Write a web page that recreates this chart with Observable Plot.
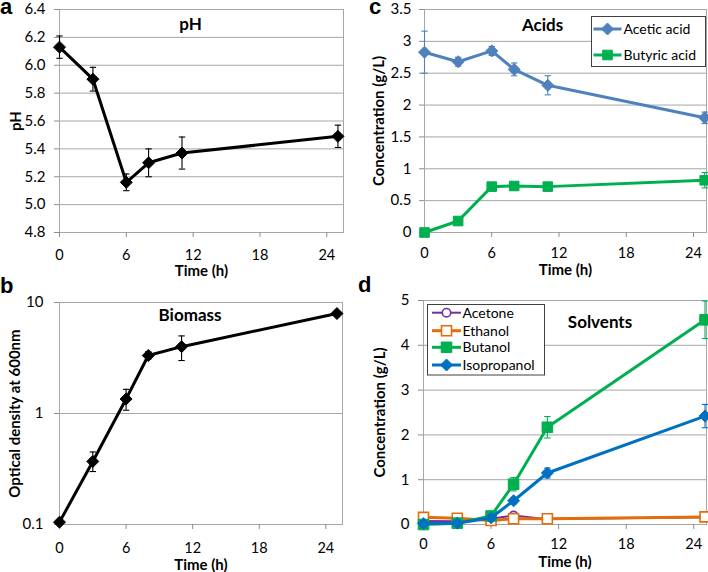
<!DOCTYPE html>
<html><head><meta charset="utf-8">
<script src="https://cdn.jsdelivr.net/npm/d3@7"></script>
<script src="https://cdn.jsdelivr.net/npm/@observablehq/plot@0.6"></script>
<style>
html,body{margin:0;padding:0;background:#fff;}
#root{position:relative;width:708px;height:572px;overflow:hidden;}
#root > svg{position:absolute;}
</style></head><body><div id="root"></div>
<script>
// ---------- data ----------
const time = [0, 3, 6, 8, 11, 25];
const xTicks = [0, 6, 12, 18, 24];

const pHValues = [6.13, 5.90, 5.16, 5.30, 5.37, 5.49];
const pHErr = [0.08, 0.085, 0.06, 0.10, 0.115, 0.08];
const pHTicks = [4.8, 5.0, 5.2, 5.4, 5.6, 5.8, 6.0, 6.2, 6.4];

const odValues = [0.105, 0.37, 1.35, 3.33, 4.0, 7.95];
const odLow = [0.105, 0.30, 1.07, 3.1, 3.0, 7.95];
const odHigh = [0.105, 0.45, 1.65, 3.6, 5.0, 7.95];
const odTicks = [0.1, 1, 10];

const aceticAcid = [2.83, 2.68, 2.85, 2.56, 2.31, 1.80];
const aceticErr = [0.33, 0.07, 0.07, 0.10, 0.15, 0.09];
const butyricAcid = [0.0, 0.18, 0.72, 0.73, 0.72, 0.82];
const butyricErr = [0, 0.02, 0.03, 0.05, 0.03, 0.12];
const acidTicks = [0, 0.5, 1, 1.5, 2, 2.5, 3, 3.5];

const acetone = [0.08, 0.07, 0.13, 0.20, 0.12, 0.16];
const ethanol = [0.16, 0.14, 0.09, 0.13, 0.13, 0.17];
const butanol = [0.0, 0.03, 0.19, 0.90, 2.17, 4.57];
const butanolErr = [0, 0.01, 0.02, 0.15, 0.24, 0.42];
const isopropanol = [0.02, 0.03, 0.15, 0.53, 1.15, 2.42];
const isopropanolErr = [0, 0.01, 0.02, 0.07, 0.11, 0.26];
const solventTicks = [0, 1, 2, 3, 4, 5];

// ---------- symbols (half-size = r) ----------
const rOf = size => Math.sqrt(size / Math.PI);
const diamondSym = {draw(ctx, size){ const r = rOf(size); ctx.moveTo(0,-r); ctx.lineTo(r,0); ctx.lineTo(0,r); ctx.lineTo(-r,0); ctx.closePath(); }};
const squareSym = {draw(ctx, size){ const r = rOf(size); ctx.rect(-r,-r,2*r,2*r); }};
const circleSym = {draw(ctx, size){ const r = rOf(size); ctx.moveTo(r,0); ctx.arc(0,0,r,0,2*Math.PI); }};
const capSym = {draw(ctx, size){ const r = rOf(size); ctx.moveTo(-r,0); ctx.lineTo(r,0); }};

const FONT = "Lato, 'Open Sans', sans-serif";
const GRID = "#a6a6a6";

function seriesMarks(s) {
  const data = time.map((t, i) => ({t, v: s.values[i], lo: s.lo[i], hi: s.hi[i]}));
  const errData = data.filter(d => d.hi - d.lo > 0.001);
  const ec = s.errColor || s.color;
  return [
    Plot.line(data, {x: "t", y: "v", stroke: s.color, strokeWidth: s.lw}),
    Plot.ruleX(errData, {x: "t", y1: "lo", y2: "hi", stroke: ec, strokeWidth: 1.1}),
    Plot.dot(errData, {x: "t", y: "lo", symbol: capSym, r: 3.2, stroke: ec, fill: "none", strokeWidth: 1.1}),
    Plot.dot(errData, {x: "t", y: "hi", symbol: capSym, r: 3.2, stroke: ec, fill: "none", strokeWidth: 1.1}),
    Plot.dot(data, {x: "t", y: "v", symbol: s.symbol, r: s.r, fill: s.fill, stroke: s.color, strokeWidth: s.open ? 1.6 : 1})
  ];
}

function makePanel(o) {
  const svg = Plot.plot({
    width: 354, height: o.height,
    marginTop: o.m[0], marginRight: o.m[1], marginBottom: o.m[2], marginLeft: o.m[3],
    style: {fontFamily: FONT, fontSize: "15px", color: "#000", background: "transparent"},
    x: {domain: [0, o.xMax], label: null},
    y: Object.assign({domain: o.yDomain, label: null}, o.yType ? {type: o.yType} : {}),
    marks: [
      Plot.gridY(o.yTicks, {stroke: GRID, strokeOpacity: 1, strokeWidth: 1}),
      Plot.frame({stroke: GRID}),
      Plot.axisX(xTicks, {tickSize: 5, tickPadding: o.xPad, stroke: "#8c8c8c", label: null, fontSize: 14.5}),
      Plot.axisY(o.yTicks, {tickSize: 5, tickPadding: o.yPad, stroke: "#8c8c8c", label: null, tickFormat: o.yFormat, fontSize: 15}),
      Plot.text([o.title], {text: d => d, frameAnchor: "top", textAnchor: "middle", lineAnchor: "middle", dx: o.titleDx, dy: o.titleDy, fontWeight: "bold", fontSize: 17}),
      Plot.text(["Time (h)"], {text: d => d, frameAnchor: "bottom", textAnchor: "middle", lineAnchor: "middle", dy: o.xLabelDy, fontWeight: "bold", fontSize: 15}),
      Plot.text([o.yLabel], {text: d => d, frameAnchor: "left", textAnchor: "middle", lineAnchor: "middle", dx: o.yLabelDx, rotate: -90, fontWeight: "bold", fontSize: o.yLabelSize || 15}),
      ...o.series.flatMap(seriesMarks)
    ]
  });
  svg.style.left = o.left + "px";
  svg.style.top = o.top + "px";
  if (o.legend) drawLegend(svg, o.legend, o.series);
  document.getElementById("root").appendChild(svg);
  return svg;
}

function drawLegend(svg, L, series) {
  const g = d3.select(svg).append("g").attr("text-anchor", "start");
  g.append("rect").attr("x", L.x).attr("y", L.y).attr("width", L.w).attr("height", L.h)
    .attr("fill", "#fff").attr("stroke", "#404040").attr("stroke-width", 1);
  series.forEach((s, i) => {
    const y = L.rows[i];
    g.append("line").attr("x1", L.lx1).attr("x2", L.lx2).attr("y1", y).attr("y2", y)
      .attr("stroke", s.color).attr("stroke-width", s.lw);
    g.append("path").attr("transform", `translate(${(L.lx1 + L.lx2) / 2},${y})`)
      .attr("d", d3.symbol(s.symbol, Math.PI * s.r * s.r)())
      .attr("fill", s.fill).attr("stroke", s.color).attr("stroke-width", s.open ? 1.6 : 1);
    g.append("text").attr("x", L.tx).attr("y", y).attr("dy", "0.36em").attr("text-anchor", "start")
      .attr("font-family", FONT).attr("font-size", 14).attr("fill", "#000").text(s.name);
  });
}

// ---------- panels ----------
makePanel({
  left: 0, top: 0, height: 290, m: [9, 11, 58, 59], xMax: 25.5,
  yDomain: [4.8, 6.4], yTicks: pHTicks, yFormat: d3.format(".1f"), xPad: 12, yPad: 9,
  title: "pH", titleDx: -11, titleDy: 15, xLabelDy: 39, yLabel: "pH", yLabelDx: -43.5,
  series: [{name: "pH", values: pHValues, lo: pHValues.map((v, i) => v - pHErr[i]), hi: pHValues.map((v, i) => v + pHErr[i]),
    color: "#000", lw: 3, symbol: diamondSym, r: 6, fill: "#000"}]
});

makePanel({
  left: 0, top: 290, height: 282, m: [12, 12, 48, 59], xMax: 25.5,
  yType: "log", yDomain: [0.1, 10], yTicks: odTicks, yFormat: d => String(d), xPad: 13.5, yPad: 11,
  title: "Biomass", titleDx: -11, titleDy: 13, xLabelDy: 41, yLabel: "Optical density at 600nm", yLabelDx: -44, yLabelSize: 15,
  series: [{name: "OD", values: odValues, lo: odLow, hi: odHigh, color: "#000", lw: 3, symbol: diamondSym, r: 6, fill: "#000"}]
});

const acidSeries = [
  {name: "Acetic acid", values: aceticAcid, lo: aceticAcid.map((v, i) => v - aceticErr[i]), hi: aceticAcid.map((v, i) => v + aceticErr[i]),
    color: "#4f81bd", lw: 3, symbol: diamondSym, r: 6, fill: "#4f81bd"},
  {name: "Butyric acid", values: butyricAcid, lo: butyricAcid.map((v, i) => v - butyricErr[i]), hi: butyricAcid.map((v, i) => v + butyricErr[i]),
    color: "#00b050", lw: 3, symbol: squareSym, r: 4.8, fill: "#00b050"}
];
makePanel({
  left: 354, top: 0, height: 290, m: [9, 2, 58, 70], xMax: 25.16,
  yDomain: [0, 3.5], yTicks: acidTicks, yFormat: d => String(d), xPad: 10, yPad: 8,
  title: "Acids", titleDx: -23, titleDy: 16, xLabelDy: 38, yLabel: "Concentration (g/L)", yLabelDx: -45,
  series: acidSeries,
  legend: {x: 237.5, y: 16.5, w: 114, h: 50, rows: [29, 55], lx1: 239.5, lx2: 267.5, tx: 269.5}
});

const solventSeries = [
  {name: "Acetone", values: acetone, lo: acetone, hi: acetone, color: "#7030a0", lw: 2, symbol: circleSym, r: 4.2, fill: "#fff", open: true},
  {name: "Ethanol", values: ethanol, lo: ethanol, hi: ethanol, color: "#e46c0a", lw: 3, symbol: squareSym, r: 5, fill: "#fff", open: true},
  {name: "Butanol", values: butanol, lo: butanol.map((v, i) => v - butanolErr[i]), hi: butanol.map((v, i) => v + butanolErr[i]),
    color: "#00b050", lw: 3, symbol: squareSym, r: 5.3, fill: "#00b050"},
  {name: "Isopropanol", values: isopropanol, lo: isopropanol.map((v, i) => v - isopropanolErr[i]), hi: isopropanol.map((v, i) => v + isopropanolErr[i]),
    color: "#0070c0", lw: 3, symbol: diamondSym, r: 6, fill: "#0070c0"}
];
makePanel({
  left: 354, top: 290, height: 282, m: [10, 2, 48, 69], xMax: 25.13,
  yDomain: [0, 5], yTicks: solventTicks, yFormat: d => String(d), xPad: 9.5, yPad: 9,
  title: "Solvents", titleDx: 35, titleDy: 22, xLabelDy: 38, yLabel: "Concentration (g/L)", yLabelDx: -43,
  series: solventSeries,
  legend: {x: 73.5, y: 14.5, w: 117, h: 70.5, rows: [22.7, 40.7, 57.3, 75], lx1: 78, lx2: 107, tx: 108.5}
});

// ---------- panel letters ----------
const letters = [{t: "a", x: 0, y: 14}, {t: "b", x: 0, y: 293}, {t: "c", x: 369, y: 14}, {t: "d", x: 358, y: 292}];
const ov = d3.select("#root").append("svg").attr("width", 708).attr("height", 572)
  .style("left", "0px").style("top", "0px").style("pointer-events", "none");
ov.selectAll("text").data(letters).join("text")
  .attr("x", d => d.x).attr("y", d => d.y).text(d => d.t)
  .attr("font-family", "'Liberation Sans', Arial, sans-serif").attr("font-weight", "bold").attr("font-size", 22).attr("fill", "#000");
</script>
</body></html>
